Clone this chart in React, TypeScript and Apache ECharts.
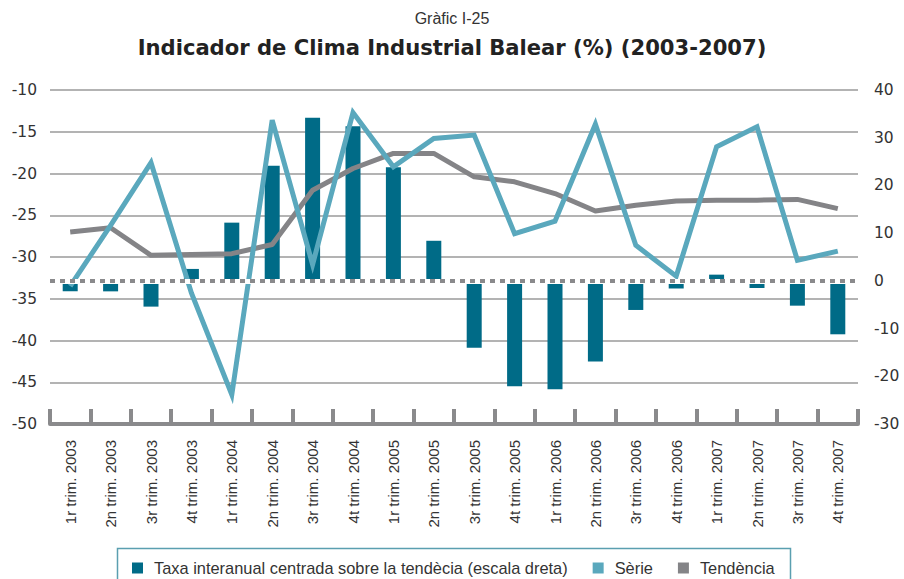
import React, { useEffect, useRef } from "react";
import * as echarts from "echarts";

const categories = [
  "1r trim. 2003", "2n trim. 2003", "3r trim. 2003", "4t trim. 2003",
  "1r trim. 2004", "2n trim. 2004", "3r trim. 2004", "4t trim. 2004",
  "1r trim. 2005", "2n trim. 2005", "3r trim. 2005", "4t trim. 2005",
  "1r trim. 2006", "2n trim. 2006", "3r trim. 2006", "4t trim. 2006",
  "1r trim. 2007", "2n trim. 2007", "3r trim. 2007", "4t trim. 2007",
];

// Taxa interanual centrada sobre la tendència (escala dreta)
const taxa = [-2.2, -2.2, -5.4, 2.5, 12.2, 24.1, 34.2, 32.4, 23.8, 8.4, -14.0, -22.1, -22.7, -16.9, -6.1, -1.6, 1.3, -1.5, -5.2, -11.2];
// Sèrie (escala esquerra)
const serie = [-33.5, -26.2, -18.7, -34.3, -46.5, -13.6, -30.9, -12.7, -19.2, -15.8, -15.4, -27.2, -25.7, -14.1, -28.6, -32.3, -16.8, -14.4, -30.4, -29.3];
// Tendència (escala esquerra)
const tendencia = [-27.0, -26.5, -29.8, -29.7, -29.6, -28.5, -22.0, -19.4, -17.6, -17.6, -20.4, -21.0, -22.4, -24.5, -23.8, -23.3, -23.2, -23.2, -23.1, -24.2];

const seriesNames = ["Taxa interanual centrada sobre la tendècia (escala dreta)", "Sèrie", "Tendència"];

const BAR = "#006b87";
const SERIE = "#5aa8bd";
const TEND = "#848487";
const AXIS = "#8a8a8c";
const FONT = "Liberation Sans";
const NUMFONT = "DejaVu Sans";

export default function App() {
  const ref = useRef<HTMLDivElement>(null);
  useEffect(() => {
    const chart = echarts.init(ref.current!, null, { renderer: "svg" });
    chart.setOption({
      animation: false,
      backgroundColor: "#fff",
      textStyle: { fontFamily: FONT },
      title: [
        {
          text: "Gràfic I-25",
          left: "center",
          top: 5,
          textStyle: { fontSize: 16, fontWeight: "normal", color: "#333", fontFamily: FONT },
        },
        {
          text: "Indicador de Clima Industrial Balear (%) (2003-2007)",
          left: "center",
          top: 32,
          textStyle: { fontSize: 21.1, fontWeight: "bold", color: "#222", fontFamily: NUMFONT },
        },
      ],
      legend: {
        data: seriesNames,
        left: 127,
        top: 555,
        icon: "rect",
        itemWidth: 11,
        itemHeight: 11,
        itemGap: 25,
        textStyle: { fontSize: 16.4, color: "#333", fontFamily: FONT, padding: [0, 0, 0, 6] },
      },
      graphic: [
        {
          type: "rect",
          shape: { x: 117.5, y: 548.5, width: 673, height: 40 },
          style: { fill: "none", stroke: "#5a9fb0", lineWidth: 1.5 },
          z: -1,
        },
      ],
      grid: { left: 50, right: 46, top: 90, bottom: 155, containLabel: false },
      xAxis: {
        type: "category",
        data: categories,
        boundaryGap: true,
        axisLine: { onZero: false, lineStyle: { color: AXIS, width: 4 } },
        axisTick: { show: true, inside: true, length: 15, interval: 0, lineStyle: { color: AXIS, width: 4 } },
        axisLabel: { interval: 0, rotate: 90, fontSize: 15, color: "#333", margin: 16, fontFamily: FONT },
        splitLine: { show: false },
      },
      yAxis: [
        {
          type: "value",
          min: -50,
          max: -10,
          interval: 5,
          axisLine: { show: false },
          axisTick: { show: false },
          axisLabel: { fontSize: 15.5, color: "#333", margin: 13, fontFamily: NUMFONT },
          splitLine: { show: true, lineStyle: { color: "#9a9a9a", width: 1.5 } },
        },
        {
          type: "value",
          min: -30,
          max: 40,
          interval: 10,
          position: "right",
          axisLine: { show: false },
          axisTick: { show: false },
          axisLabel: { fontSize: 15.5, color: "#333", margin: 16, fontFamily: NUMFONT },
          splitLine: { show: false },
        },
      ],
      series: [
        {
          name: seriesNames[0],
          type: "bar",
          yAxisIndex: 1,
          data: taxa,
          barWidth: 15,
          itemStyle: { color: BAR },
          z: 2,
          markLine: {
            silent: true,
            symbol: "none",
            label: { show: false },
            data: [
              { yAxis: 0, lineStyle: { color: "#ffffff", width: 5, type: "solid" } },
              { yAxis: 0, lineStyle: { color: AXIS, width: 4, type: [5, 5] } },
            ],
          },
        },
        {
          name: seriesNames[2],
          type: "line",
          yAxisIndex: 0,
          data: tendencia,
          symbol: "none",
          itemStyle: { color: TEND },
          lineStyle: { color: TEND, width: 5, join: "round" },
          z: 3,
        },
        {
          name: seriesNames[1],
          type: "line",
          yAxisIndex: 0,
          data: serie,
          symbol: "none",
          itemStyle: { color: SERIE },
          lineStyle: { color: SERIE, width: 5, join: "miter" },
          z: 4,
        },
      ],
    });
    return () => chart.dispose();
  }, []);
  return <div ref={ref} style={{ width: 904, height: 579, position: "absolute", left: 0, top: 0 }} />;
}
